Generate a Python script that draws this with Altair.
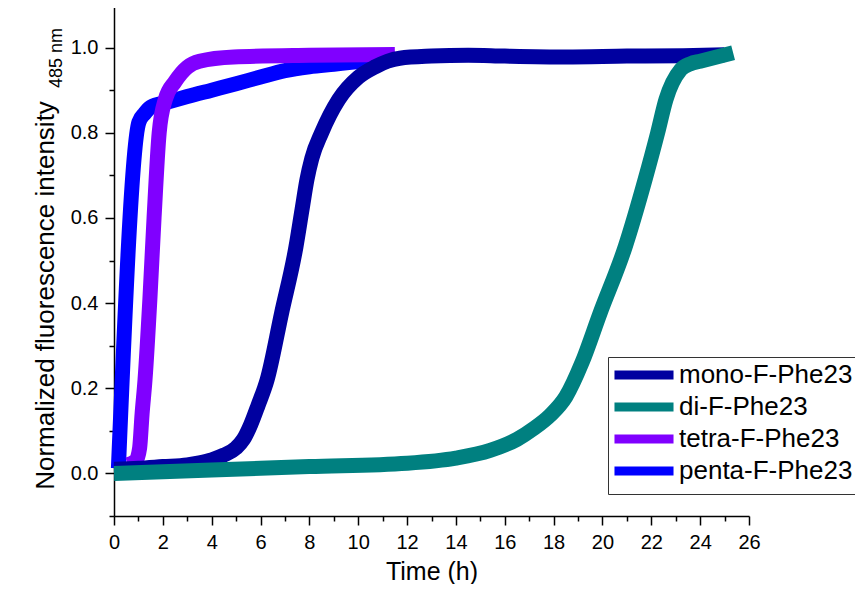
import altair as alt
import pandas as pd

FONT = "Liberation Sans"

series_names = ["mono-F-Phe23", "di-F-Phe23", "tetra-F-Phe23", "penta-F-Phe23"]
series_colors = ["#0000A0", "#008080", "#8000FF", "#0000FF"]

mono_t = [0, 1, 2, 3, 3.5, 4, 4.5, 5.0, 5.3, 5.6, 5.9, 6.27, 6.86, 7.45, 7.7, 7.9, 8.1, 8.5, 9.2, 10.0, 10.7, 11.2, 11.7, 13.0, 14.5, 16.0, 18.5, 21.0, 23.3, 25.0]
mono_v = [0.010, 0.012, 0.016, 0.020, 0.025, 0.032, 0.043, 0.060, 0.080, 0.115, 0.160, 0.220, 0.376, 0.532, 0.620, 0.690, 0.740, 0.800, 0.878, 0.930, 0.955, 0.968, 0.975, 0.980, 0.982, 0.980, 0.978, 0.980, 0.981, 0.983]

di_t = [0, 4, 8, 12, 14, 15.4, 16.5, 17.2, 17.85, 18.5, 19.16, 19.9, 20.93, 21.74, 22.26, 22.6, 23.2, 23.6, 24.0, 25.35]
di_v = [0.000, 0.008, 0.016, 0.024, 0.036, 0.054, 0.080, 0.106, 0.136, 0.180, 0.260, 0.376, 0.532, 0.689, 0.800, 0.878, 0.948, 0.962, 0.968, 0.988]

tetra_t = [0.55, 0.9, 1.05, 1.15, 1.27, 1.47, 1.64, 1.85, 2.1, 2.5, 3.0, 3.5, 4.9, 8.0, 11.5]
tetra_v = [0.020, 0.030, 0.060, 0.140, 0.220, 0.410, 0.600, 0.800, 0.878, 0.920, 0.954, 0.968, 0.978, 0.982, 0.984]

penta_t = [0.18, 1.02, 1.25, 1.5, 2.2, 3.0, 4.0, 5.0, 6.0, 7.0, 8.0, 9.0, 10.0, 11.5]
penta_v = [0.012, 0.825, 0.845, 0.860, 0.872, 0.885, 0.900, 0.915, 0.931, 0.946, 0.955, 0.961, 0.967, 0.974]

x_ticks = list(range(0, 27))
y_ticks = [-0.1, 0.0, 0.1, 0.2, 0.3, 0.4, 0.5, 0.6, 0.7, 0.8, 0.9, 1.0, 1.1]

x_title = "Time (h)"
y_title = "Normalized fluorescence intensity"
y_sub = "485 nm"


def frame(name, t, v):
    return pd.DataFrame({"t": t, "v": v, "series": name})


x_axis = alt.Axis(
    values=x_ticks,
    labelExpr="datum.value % 2 == 0 ? datum.label : ''",
    tickSize={"condition": {"test": "datum.value % 2 == 0", "value": 9}, "value": 5},
    grid=False, domainColor="black", tickColor="black", domainWidth=1.5, tickWidth=1.5,
    labelFont=FONT, labelFontSize=20, labelColor="black", labelFlush=False, labelPadding=7,
    labelOverlap=False,
    title=x_title, titleFont=FONT, titleFontSize=25, titleFontWeight="normal", titleColor="black",
    titleBaseline="alphabetic", titleY=63,
)

y_axis = alt.Axis(
    values=y_ticks, format=".1f",
    labelExpr="round(datum.value*10) % 2 == 0 ? datum.label : ''",
    tickSize={"condition": {"test": "round(datum.value*10) % 2 == 0", "value": 9}, "value": 5},
    grid=False, domainColor="black", tickColor="black", domainWidth=1.5, tickWidth=1.5,
    labelFont=FONT, labelFontSize=20, labelColor="black", labelFlush=False, labelPadding=7,
    labelOverlap=False,
    title=y_title, titleFont=FONT, titleFontSize=26, titleFontWeight="normal", titleColor="black",
    titleAngle=270, titleX=-61, titleY=290, titleAlign="center", titleBaseline="alphabetic",
)

legend = alt.Legend(
    title=None, orient="none", legendX=494, legendY=352, direction="vertical",
    symbolType="M-1.92,0H7.92", symbolSize=144, symbolStrokeWidth=9, symbolOpacity=1,
    labelFont=FONT, labelFontSize=26, labelColor="black", labelOffset=40, labelLimit=400,
    padding=5, rowPadding=-4, strokeColor="#333333", fillColor="white",
)

color_scale = alt.Scale(domain=series_names, range=series_colors)
x_scale = alt.Scale(domain=[0, 26], nice=False, zero=False)
y_scale = alt.Scale(domain=[-0.1, 1.1], nice=False, zero=False)


def line(df):
    return alt.Chart(df).mark_line(
        strokeWidth=15, strokeCap="butt", strokeJoin="round", interpolate="monotone"
    ).encode(
        x=alt.X("t:Q", scale=x_scale, axis=x_axis),
        y=alt.Y("v:Q", scale=y_scale, axis=y_axis),
        color=alt.Color("series:N", scale=color_scale, legend=legend),
    )


layers = [
    line(frame("penta-F-Phe23", penta_t, penta_v)),
    line(frame("tetra-F-Phe23", tetra_t, tetra_v)),
    line(frame("mono-F-Phe23", mono_t, mono_v)),
    line(frame("di-F-Phe23", di_t, di_v)),
]

sub = alt.Chart(pd.DataFrame({"txt": [y_sub]})).mark_text(
    angle=270, align="center", baseline="alphabetic", font=FONT, fontSize=18, color="black"
).encode(x=alt.value(-52), y=alt.value(53), text="txt:N")

chart = alt.layer(*layers, sub).properties(
    width=635, height=511,
    padding={"left": 106, "top": -3, "right": 106, "bottom": 68},
    autosize="none",
    background="white",
).configure_view(strokeWidth=0)

chart.save("out.html", embed_options={"renderer": "svg", "actions": False})
